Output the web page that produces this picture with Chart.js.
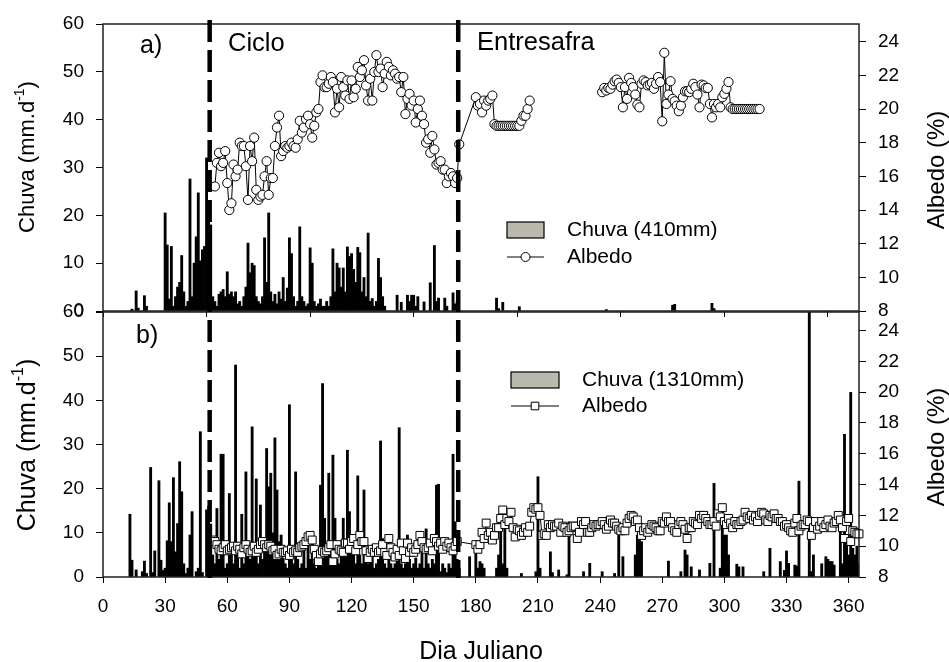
<!DOCTYPE html>
<html>
<head>
<meta charset="utf-8">
<script src="https://cdn.jsdelivr.net/npm/chart.js@4.4.1/dist/chart.umd.min.js"></script>
<style>
  html, body { margin: 0; padding: 0; background: #fff; }
  #wrap { position: relative; width: 949px; height: 662px; }
  #wrap canvas { position: absolute; left: 0; top: 0; }
</style>
</head>
<body>
<div id="wrap">
  <canvas id="painelA" width="949" height="662"></canvas>
  <canvas id="painelB" width="949" height="662"></canvas>
</div>
<script>
// ---- Eixos ----
const ticksChuva  = [0, 10, 20, 30, 40, 50, 60];
const ticksAlbedo = [8, 10, 12, 14, 16, 18, 20, 22, 24];
const ticksDiaA   = [0, 50, 100, 150, 200, 250, 300, 350];
const ticksDiaB   = [0, 30, 60, 90, 120, 150, 180, 210, 240, 270, 300, 330, 360];
const limitesFases = [51.5, 171.5];   // inicio e fim do ciclo (dia juliano)

// ---- a) chuva diaria (mm) ----
const diasChuvaA = [
  14, 16, 17, 20, 21, 30, 31, 32, 33, 34,
  35, 36, 37, 38, 39, 40, 41, 42, 43, 44,
  45, 46, 47, 48, 49, 50, 51, 52, 53, 54,
  55, 56, 57, 58, 59, 60, 61, 62, 63, 64,
  65, 66, 67, 68, 69, 70, 71, 72, 73, 74,
  75, 76, 77, 78, 79, 80, 81, 82, 83, 84,
  85, 86, 87, 88, 89, 90, 91, 92, 93, 94,
  95, 96, 97, 98, 99, 100, 101, 102, 103, 104,
  105, 106, 107, 108, 109, 110, 111, 112, 113, 114,
  115, 116, 117, 118, 119, 120, 121, 122, 123, 124,
  125, 126, 127, 128, 129, 130, 131, 132, 133, 134,
  135, 136, 142, 144, 147, 148, 149, 150, 151, 152,
  155, 158, 160, 161, 162, 165, 166, 169, 170, 171,
  190, 191, 193, 201, 243, 275, 276, 294, 295
];
const mmChuvaA = [
  0.4, 4.2, 0.6, 3.2, 1.0, 20.5, 13.8, 2.5, 13.5, 1.0,
  3.0, 5.0, 6.0, 11.6, 4.0, 1.0, 2.0, 27.6, 3.0, 10.0,
  15.5, 24.7, 10.5, 12.8, 13.5, 32.0, 22.0, 18.0, 3.0, 2.0,
  1.0, 3.5, 4.0, 4.5, 3.0, 8.2, 3.5, 4.0, 3.0, 4.0,
  1.5, 2.0, 1.0, 3.0, 5.0, 14.2, 8.0, 10.0, 9.5, 3.0,
  2.0, 1.5, 3.0, 15.3, 6.0, 20.5, 4.0, 2.0, 3.5, 1.5,
  4.0, 2.5, 7.0, 2.0, 4.8, 15.3, 12.0, 3.0, 1.0, 2.0,
  17.6, 3.0, 2.0, 1.0, 1.5, 13.2, 10.0, 2.0, 1.0, 1.5,
  2.5, 1.0, 1.0, 2.0, 1.0, 3.0, 13.0, 4.0, 10.0, 9.0,
  5.0, 9.0, 4.0, 13.4, 11.4, 12.0, 8.7, 6.0, 13.3, 12.2,
  4.0, 7.0, 3.0, 16.3, 2.0, 2.6, 1.0, 2.0, 11.0, 7.0,
  3.0, 1.0, 3.3, 1.8, 3.3, 2.0, 3.3, 3.3, 1.0, 3.0,
  1.9, 5.9, 13.7, 2.0, 2.7, 2.7, 1.0, 3.8, 1.5, 2.0,
  2.7, 0.5, 1.8, 0.9, 0.3, 1.2, 1.4, 1.6, 0.5
];

// ---- a) albedo (%) em tres trechos de dias consecutivos ----
const inicioAlbedoA1 = 54;
const albedoA1 = [
  15.4, 16.8, 17.4, 16.6, 16.8, 17.5, 15.6, 14.0, 14.4, 16.7,
  16.0, 16.4, 18.0, 17.8, 17.8, 16.6, 14.6, 17.8, 16.9, 18.3,
  15.2, 14.6, 14.8, 14.9, 16.0, 16.9, 14.9, 15.9, 15.9, 17.8,
  18.9, 19.6, 17.2, 17.5, 17.8, 17.7, 17.8, 18.0, 17.8, 17.7,
  18.2, 19.3, 18.6, 18.9, 19.4, 19.6, 19.1, 18.3, 19.0, 19.8,
  20.0, 21.6, 22.0, 21.3, 21.3, 21.5, 21.9, 21.6, 19.8, 21.2,
  20.1, 21.9, 21.3, 20.8, 21.7, 20.6, 21.7, 20.7, 21.2, 22.5,
  21.9, 22.3, 22.9, 21.4, 20.5, 21.8, 20.5, 22.2, 23.2, 22.2,
  22.4, 21.3, 22.1, 22.8, 22.5, 22.0, 22.3, 22.1, 21.8, 21.9,
  21.0, 21.9, 19.7, 20.6, 20.9, 20.2, 20.5, 19.2, 20.0, 20.5,
  19.6, 19.1, 18.0, 18.2, 17.4, 18.4, 17.6, 16.7, 16.8, 16.9,
  16.4, 16.4, 15.6, 16.0, 16.2, 16.0, 15.6, 15.9, 17.9
];
const inicioAlbedoA2 = 180;
const albedoA2 = [
  20.7, 20.2, 20.3, 19.8, 20.5, 20.2, 20.5, 20.6, 20.8, 19.1,
  19.0, 19.0, 19.0, 19.0, 19.0, 19.0, 19.0, 19.0, 19.0, 19.0,
  19.0, 19.0, 19.3, 19.6, 19.6, 20.0, 20.5
];
const inicioAlbedoA3 = 241;
const albedoA3 = [
  21.0, 21.25, 21.1, 21.25, 21.2, 21.45, 21.65, 21.75, 21.55, 21.3,
  20.1, 21.3, 20.6, 21.85, 21.55, 21.3, 20.86, 20.26, 20.1, 21.5,
  21.7, 21.6, 21.4, 21.45, 21.55, 21.2, 21.5, 21.9, 21.6, 19.27,
  23.34, 20.3, 20.86, 21.65, 20.6, 20.46, 20.2, 19.87, 20.2, 20.7,
  21.05, 21.05, 21.0, 21.2, 21.5, 21.3, 20.86, 20.1, 21.45, 21.4,
  21.25, 21.25, 20.3, 19.5, 20.3, 20.1, 20.3, 20.1, 20.7, 20.9,
  21.2, 21.6, 20.1, 20.0, 20.0, 20.0, 20.0, 20.0, 20.0, 20.0,
  20.0, 20.0, 20.0, 20.0, 20.0, 20.0, 20.0
];

// ---- b) chuva diaria (mm) ----
const diasChuvaB = [
  13, 14, 16, 19, 20, 21, 23, 24, 25, 27,
  28, 29, 30, 31, 32, 33, 34, 35, 36, 37,
  38, 39, 40, 41, 42, 43, 45, 46, 47, 48,
  50, 51, 52, 53, 54, 55, 56, 57, 58, 59,
  60, 61, 62, 63, 64, 65, 66, 67, 68, 69,
  70, 71, 72, 73, 74, 75, 76, 77, 78, 79,
  80, 81, 82, 83, 84, 85, 86, 87, 88, 89,
  90, 91, 92, 93, 94, 95, 96, 97, 98, 99,
  100, 101, 102, 103, 104, 105, 106, 107, 108, 109,
  110, 111, 112, 113, 114, 115, 116, 117, 118, 119,
  120, 121, 122, 123, 124, 125, 126, 127, 128, 129,
  130, 131, 132, 133, 134, 135, 136, 137, 138, 139,
  140, 141, 142, 143, 144, 145, 146, 147, 148, 149,
  150, 151, 152, 153, 154, 155, 156, 157, 158, 159,
  160, 161, 162, 163, 164, 165, 166, 167, 168, 169,
  170, 171, 172, 177, 180, 181, 182, 183, 184, 190,
  191, 192, 193, 194, 195, 202, 209, 210, 211, 216,
  217, 220, 224, 225, 232, 235, 241, 247, 249, 251,
  257, 258, 259, 260, 273, 279, 281, 282, 284, 288,
  293, 295, 298, 299, 300, 301, 302, 306, 307, 309,
  319, 322, 327, 329, 330, 331, 334, 335, 336, 341,
  342, 343, 347, 349, 350, 351, 352, 353, 356, 357,
  358, 359, 360, 361, 362, 363, 364, 365
];
const mmChuvaB = [
  14.2, 3.8, 1.6, 1.2, 3.6, 0.8, 24.8, 1.0, 5.9, 21.8,
  3.8, 1.5, 2.0, 8.2, 16.8, 8.0, 22.5, 5.7, 12.1, 26.1,
  19.3, 3.0, 0.8, 2.0, 9.5, 14.8, 1.2, 2.0, 32.9, 1.0,
  15.2, 16.0, 12.0, 5.0, 3.0, 15.5, 4.0, 27.8, 27.8, 2.0,
  3.0, 18.9, 6.0, 3.0, 48.0, 7.2, 2.0, 14.2, 3.0, 23.8,
  7.2, 4.0, 34.0, 5.0, 22.2, 3.0, 16.3, 4.0, 6.0, 29.1,
  20.4, 23.5, 10.0, 31.5, 19.7, 8.0, 9.5, 4.2, 3.0, 2.0,
  39.0, 5.0, 3.0, 23.8, 4.0, 2.0, 3.0, 8.7, 2.0, 9.5,
  4.0, 9.9, 3.0, 2.0, 5.0, 20.8, 43.8, 13.3, 6.0, 23.5,
  8.0, 27.6, 13.3, 4.0, 3.0, 6.0, 13.3, 5.0, 28.7, 14.8,
  6.0, 8.4, 3.0, 22.9, 5.0, 3.0, 19.7, 4.0, 3.0, 5.0,
  7.2, 2.0, 3.0, 4.0, 30.8, 8.7, 3.0, 2.0, 7.2, 3.0,
  2.0, 3.0, 5.0, 33.8, 3.0, 2.0, 3.0, 9.5, 4.0, 2.0,
  3.0, 4.3, 2.0, 3.0, 5.7, 2.0, 10.9, 3.0, 2.0, 4.0,
  3.0, 20.8, 21.0, 1.2, 3.0, 2.0, 1.0, 3.0, 2.0, 27.8,
  12.5, 4.0, 2.0, 4.6, 7.2, 2.0, 3.5, 3.0, 2.0, 2.0,
  5.0, 15.5, 3.0, 13.3, 2.0, 0.8, 1.2, 22.7, 2.0, 5.7,
  1.0, 1.6, 0.5, 12.5, 1.2, 3.1, 1.2, 0.8, 9.5, 4.6,
  5.0, 9.5, 11.8, 8.0, 3.6, 1.2, 6.1, 5.0, 2.3, 1.6,
  3.1, 21.2, 2.0, 15.5, 9.5, 9.5, 5.0, 2.9, 2.3, 2.3,
  1.2, 6.5, 3.5, 1.5, 5.9, 3.1, 2.7, 2.5, 21.7, 65.0,
  1.2, 5.0, 3.0, 4.6, 4.0, 3.5, 3.5, 2.7, 10.3, 3.0,
  32.3, 8.7, 5.0, 41.8, 6.5, 5.0, 7.0, 3.0
];

// ---- b) albedo (%) ----
const inicioAlbedoB1 = 53;
const albedoB1 = [
  10.4, 10.3, 10.1, 9.8, 9.7, 9.9, 10.1, 9.7, 9.8, 9.9,
  10.0, 9.7, 10.0, 9.8, 9.5, 9.9, 10.1, 9.8, 9.6, 9.7,
  10.0, 9.6, 9.8, 10.1, 10.3, 10.1, 9.9, 10.1, 10.0, 9.7,
  9.8, 9.4, 9.5, 9.8, 9.6, 9.6, 9.7, 9.4, 9.8, 9.6,
  9.7, 9.6, 9.9, 10.0, 10.1, 10.3, 10.6, 10.7, 10.4, 9.8,
  9.4, 9.0, 9.5, 9.7, 9.6, 9.7, 9.9, 10.1, 9.0, 9.5,
  10.1, 9.8, 9.7, 9.6, 10.2, 10.2, 9.8, 10.3, 10.5, 9.7,
  10.1, 10.7, 10.3, 10.3, 9.7, 9.2, 9.6, 9.8, 9.6, 9.9,
  9.6, 9.7, 10.1, 9.6, 9.4, 10.5, 9.9, 9.6, 9.3, 9.8,
  9.4, 10.2, 9.7, 9.2, 10.2, 9.6, 9.9, 9.6, 9.8, 10.1,
  10.7, 10.3, 9.9, 9.8, 9.9, 10.2, 9.7, 10.5, 10.3, 10.0,
  10.2, 9.8, 10.3, 10.0, 10.2, 9.9, 9.7, 10.0, 10.3
];
const inicioAlbedoB2 = 180;
const albedoB2 = [
  10.1, 9.8, 10.1, 10.9, 10.5, 11.5, 10.7, 10.9, 10.4, 10.7,
  11.2, 11.2, 11.8, 12.35, 11.4, 11.8, 11.6, 12.2, 11.2, 10.6,
  11.1, 11.0, 10.7, 10.9, 11.2, 10.9, 11.3, 12.2, 12.5, 12.4,
  12.5, 12.0, 10.7, 10.8, 10.7, 11.4, 11.2, 11.4, 11.3, 11.3,
  11.5, 10.9, 11.3, 11.2, 10.9, 11.0, 11.2, 11.3, 11.3, 10.5,
  10.9, 11.6, 11.4, 11.6, 10.9, 10.9, 11.2, 11.4, 11.3, 11.4,
  11.4, 11.6, 11.4, 11.1, 11.3, 11.7, 11.5, 11.5, 11.3, 11.1,
  11.0, 11.2, 11.0, 11.5, 11.8, 12.0, 11.9, 11.6, 11.7, 11.2,
  10.7, 11.0, 11.2, 10.9, 11.1, 11.4, 11.3, 11.2, 11.0, 11.0,
  11.6, 11.5, 11.9, 11.6, 11.6, 11.2, 11.0, 10.9, 11.4, 11.6,
  11.4, 11.1, 10.5, 11.2, 11.2, 11.6, 11.5, 11.4, 12.0, 11.8,
  12.0, 11.8, 11.6, 11.4, 11.4, 11.6, 11.3, 12.1, 11.9, 12.5,
  11.6, 11.4, 11.8, 11.5, 11.2, 11.6, 11.4, 11.4, 11.6, 11.7,
  12.2, 11.9, 11.8, 12.0, 11.7, 11.9, 11.6, 12.0, 12.2, 12.1,
  11.7, 11.6, 12.0, 11.9, 12.1, 11.8, 11.8, 11.6, 11.6, 11.3,
  11.4, 11.2, 11.0, 10.9, 11.5, 11.8, 11.0, 11.3, 11.4, 11.4,
  11.7, 11.6, 10.7, 11.2, 11.6, 11.1, 11.3, 11.6, 11.2, 11.4,
  11.7, 11.3, 11.2, 11.5, 11.6, 12.0, 11.7, 11.2, 10.5, 11.6,
  11.8, 10.3, 11.0, 10.9, 10.8, 10.8
];

// ---- montagem dos pontos ----
const FONTE = "'Liberation Sans', Arial, Helvetica, sans-serif";
const CINZA_LEGENDA = '#b9b9ad';

function pares(dias, valores) {
  return dias.map((d, i) => ({ x: d, y: valores[i] }));
}
function trecho(inicio, valores) {
  return valores.map((v, i) => ({ x: inicio + i, y: v }));
}

const pontosChuvaA = pares(diasChuvaA, mmChuvaA);
const pontosChuvaB = pares(diasChuvaB, mmChuvaB);
// o trecho de entressafra em a) tem uma falha sem linha entre os dias 207 e 241
const pontosAlbedoA = [
  ...trecho(inicioAlbedoA1, albedoA1),
  ...trecho(inicioAlbedoA2, albedoA2),
  { x: 224, y: null },
  ...trecho(inicioAlbedoA3, albedoA3)
];
const pontosAlbedoB = [
  ...trecho(inicioAlbedoB1, albedoB1),
  ...trecho(inicioAlbedoB2, albedoB2)
];

// ---- escalas ----
function eixoDias(ticks, altura, mostrarRotulos) {
  return {
    type: 'linear', position: 'bottom', min: 0, max: 365, offset: false,
    afterBuildTicks: s => { s.ticks = ticks.map(v => ({ value: v })); },
    afterFit: s => { s.height = altura; },
    grid: { drawOnChartArea: false, drawTicks: true, tickLength: 6, color: '#000', lineWidth: 1, offset: false },
    border: { display: false },
    ticks: { display: mostrarRotulos, font: { family: FONTE, size: 19 }, color: '#000',
             padding: 12, maxRotation: 0, autoSkip: false }
  };
}
function eixoY(posicao, min, max, ticks, largura) {
  return {
    type: 'linear', position: posicao, min: min, max: max,
    afterBuildTicks: s => { s.ticks = ticks.map(v => ({ value: v })); },
    afterFit: s => { s.width = largura; },
    grid: { drawOnChartArea: false, drawTicks: true, tickLength: 7, color: '#000', lineWidth: 1 },
    border: { display: false },
    ticks: { font: { family: FONTE, size: 19 }, color: '#000', padding: 12 }
  };
}

// moldura de cada painel
const moldura = {
  id: 'moldura',
  afterDraw(chart) {
    const a = chart.chartArea, ctx = chart.ctx;
    ctx.save();
    ctx.strokeStyle = '#1e1e1e';
    ctx.lineWidth = 1.5;
    ctx.strokeRect(a.left, a.top, a.right - a.left, a.bottom - a.top);
    ctx.restore();
  }
};

// titulo vertical com expoente
function tituloVertical(ctx, cx, cy, tamanho, partes) {
  ctx.save();
  ctx.translate(cx, cy);
  ctx.rotate(-Math.PI / 2);
  ctx.textBaseline = 'middle';
  ctx.textAlign = 'left';
  let total = 0;
  const medidas = partes.map(p => {
    ctx.font = (p.sup ? Math.round(tamanho * 0.62) : tamanho) + 'px ' + FONTE;
    const w = ctx.measureText(p.t).width;
    total += w;
    return w;
  });
  let x = -total / 2;
  partes.forEach((p, i) => {
    ctx.font = (p.sup ? Math.round(tamanho * 0.62) : tamanho) + 'px ' + FONTE;
    ctx.fillText(p.t, x, p.sup ? -tamanho * 0.36 : 0);
    x += medidas[i];
  });
  ctx.restore();
}

function texto(ctx, t, x, y, tamanho, alinhamento) {
  ctx.font = tamanho + 'px ' + FONTE;
  ctx.textAlign = alinhamento || 'left';
  ctx.textBaseline = 'middle';
  ctx.fillText(t, x, y);
}

function legenda(ctx, caixa, linhaY, rotuloChuva, marcador) {
  ctx.save();
  ctx.fillStyle = CINZA_LEGENDA;
  ctx.fillRect(caixa.x, caixa.y, caixa.w, caixa.h);
  ctx.strokeStyle = '#000';
  ctx.lineWidth = 1.2;
  ctx.strokeRect(caixa.x, caixa.y, caixa.w, caixa.h);
  ctx.lineWidth = 1;
  ctx.beginPath();
  ctx.moveTo(caixa.x, linhaY);
  ctx.lineTo(caixa.x + caixa.w, linhaY);
  ctx.stroke();
  const mx = caixa.x + caixa.w / 2;
  ctx.fillStyle = '#fff';
  ctx.beginPath();
  if (marcador === 'circulo') ctx.arc(mx, linhaY, 4.5, 0, Math.PI * 2);
  else ctx.rect(mx - 3.8, linhaY - 3.8, 7.6, 7.6);
  ctx.fill();
  ctx.stroke();
  ctx.fillStyle = '#000';
  const tx = caixa.x + caixa.w + 23;
  texto(ctx, rotuloChuva, tx, caixa.y + caixa.h / 2, 21);
  texto(ctx, 'Albedo', tx, linhaY, 21);
  ctx.restore();
}

// textos e linhas das fases, desenhados por cima dos dois paineis
const anotacoes = {
  id: 'anotacoes',
  afterDraw(chart) {
    const ctx = chart.ctx;
    const xs = chart.scales.x;
    ctx.save();
    // limites do ciclo
    ctx.strokeStyle = '#000';
    ctx.lineWidth = 4.5;
    ctx.setLineDash([22, 8]);
    limitesFases.forEach(d => {
      const px = xs.getPixelForValue(d);
      ctx.beginPath();
      ctx.moveTo(px, 20);
      ctx.lineTo(px, 578);
      ctx.stroke();
    });
    ctx.setLineDash([]);
    ctx.fillStyle = '#000';
    texto(ctx, 'a)', 140, 46, 25);
    texto(ctx, 'Ciclo', 228, 44, 25.5);
    texto(ctx, 'Entresafra', 477, 43, 25.5);
    texto(ctx, 'b)', 136, 336, 25);
    texto(ctx, 'Dia Juliano', 481, 652, 25, 'center');
    tituloVertical(ctx, 28, 157, 22, [{ t: 'Chuva (mm.d' }, { t: '-1', sup: true }, { t: ')' }]);
    tituloVertical(ctx, 28, 445, 25, [{ t: 'Chuva (mm.d' }, { t: '-1', sup: true }, { t: ')' }]);
    tituloVertical(ctx, 937, 170, 24, [{ t: 'Albedo (%)' }]);
    tituloVertical(ctx, 937, 447, 24, [{ t: 'Albedo (%)' }]);
    legenda(ctx, { x: 507, y: 222, w: 37, h: 16 }, 257, 'Chuva (410mm)', 'circulo');
    legenda(ctx, { x: 511, y: 372, w: 48, h: 16 }, 406, 'Chuva (1310mm)', 'quadrado');
    ctx.restore();
  }
};

function painel(id, chuva, albedo, estiloPonto, raioPonto, maxAlbedo, rotuloChuva, padding, eixoX, extras) {
  return new Chart(document.getElementById(id), {
    type: 'bar',
    data: {
      datasets: [
        {
          type: 'line', label: 'Albedo', data: albedo, yAxisID: 'y2',
          borderColor: '#000', borderWidth: 1, tension: 0, spanGaps: false,
          pointStyle: estiloPonto, pointRadius: raioPonto,
          pointBackgroundColor: '#fff', pointBorderColor: '#000', pointBorderWidth: 1,
          order: 0, clip: false
        },
        {
          type: 'bar', label: rotuloChuva, data: chuva, yAxisID: 'y',
          backgroundColor: '#000', borderWidth: 0, barThickness: 2.2, order: 1
        }
      ]
    },
    options: {
      responsive: false, animation: false, devicePixelRatio: 1, events: [],
      layout: { padding: padding },
      plugins: { legend: { display: false }, tooltip: { enabled: false } },
      scales: {
        x: eixoX,
        y: eixoY('left', 0, 60, ticksChuva, 103),
        y2: eixoY('right', 8, maxAlbedo, ticksAlbedo, 90)
      }
    },
    plugins: [moldura].concat(extras)
  });
}

painel('painelA', pontosChuvaA, pontosAlbedoA, 'circle', 4.6, 25.05, 'Chuva (410mm)',
       { left: 0, right: 0, top: 24, bottom: 341 }, eixoDias(ticksDiaA, 10, false), []);
painel('painelB', pontosChuvaB, pontosAlbedoB, 'rect', 5.6, 25.2, 'Chuva (1310mm)',
       { left: 0, right: 0, top: 312, bottom: 0 }, eixoDias(ticksDiaB, 85, true), [anotacoes]);
</script>
</body>
</html>
